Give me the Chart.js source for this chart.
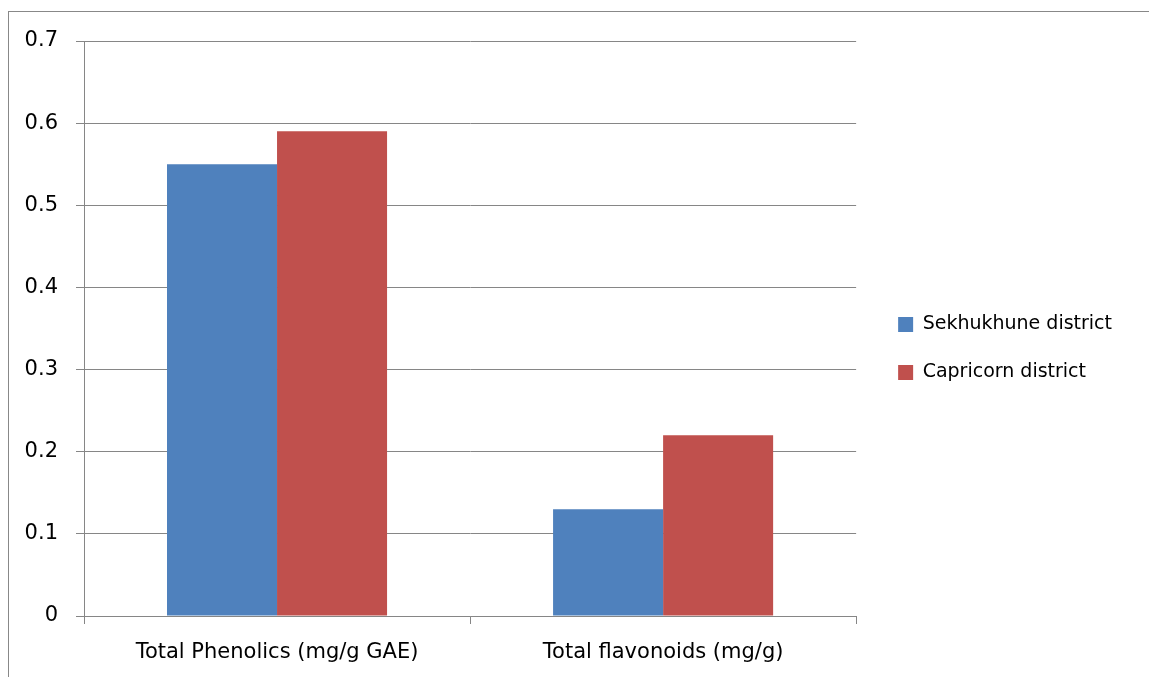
<!DOCTYPE html>
<html>
<head>
<meta charset="utf-8">
<script src="https://cdn.jsdelivr.net/npm/chart.js@4.4.1/dist/chart.umd.min.js"></script>
<style>
  html, body { margin: 0; padding: 0; background: #fff; overflow: hidden; }
  #frame { position: absolute; left: 8px; top: 11px; width: 2000px; height: 2000px;
           border-left: 1px solid #888; border-top: 1px solid #888; }
  #wrap { position: absolute; left: 0; top: 0; width: 1149px; height: 677px; }
</style>
</head>
<body>
<div id="frame"></div>
<div id="wrap"><canvas id="c" width="1149" height="677"></canvas></div>
<script>
const categories = ['Total Phenolics (mg/g GAE)', 'Total flavonoids (mg/g)'];
const sekhukhune = [0.55, 0.13];
const capricorn = [0.59, 0.22];
const seriesNames = ['Sekhukhune district', 'Capricorn district'];

const gridColor = '#868686';
const fontFamily = '"DejaVu Sans", sans-serif';

// Leave a wider gap between the plot and the legend than the item padding gives.
const legendOffset = {
  id: 'legendOffset',
  afterLayout(chart, args, opts) {
    const lg = chart.legend;
    if (!lg) return;
    lg.left += opts.dx; lg.right += opts.dx;
    lg.top += opts.dy; lg.bottom += opts.dy;
  }
};

new Chart(document.getElementById('c'), {
  type: 'bar',
  data: {
    labels: categories,
    datasets: [
      { label: seriesNames[0], data: sekhukhune, backgroundColor: '#4F81BD', borderWidth: 0 },
      { label: seriesNames[1], data: capricorn, backgroundColor: '#C0504D', borderWidth: 0 }
    ]
  },
  plugins: [legendOffset],
  options: {
    responsive: false,
    animation: false,
    devicePixelRatio: 1,
    layout: { padding: { left: 10, top: 41, right: 40, bottom: 13 } },
    datasets: { bar: { categoryPercentage: 0.57, barPercentage: 1.0 } },
    plugins: {
      legendOffset: { dx: 13, dy: -4 },
      legend: {
        position: 'right',
        align: 'center',
        labels: {
          boxWidth: 15, boxHeight: 15, padding: 29,
          color: '#000', font: { family: fontFamily, size: 19 }
        }
      },
      tooltip: { enabled: false }
    },
    scales: {
      x: {
        offset: true,
        grid: { offset: true, drawOnChartArea: false, drawTicks: true, tickLength: 8, color: gridColor, lineWidth: 1 },
        border: { display: true, color: gridColor, width: 1 },
        ticks: { color: '#000', padding: 16, font: { family: fontFamily, size: 21 }, maxRotation: 0 },
        afterFit: (s) => { s.height = 48; }
      },
      y: {
        min: 0, max: 0.7,
        ticks: { stepSize: 0.1, color: '#000', padding: 18, font: { family: fontFamily, size: 21 } },
        grid: { color: gridColor, lineWidth: 1, tickLength: 8, drawTicks: true },
        border: { display: true, color: gridColor, width: 1 },
        afterFit: (s) => { s.width = 74; }
      }
    }
  }
});
</script>
</body>
</html>
